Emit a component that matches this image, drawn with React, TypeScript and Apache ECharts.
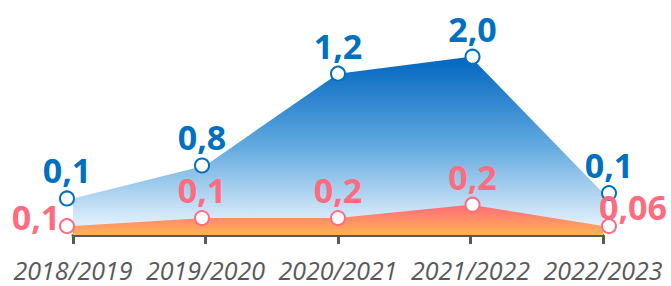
import React, { useEffect, useRef } from "react";
import * as echarts from "echarts";

const categories = ["2018/2019", "2019/2020", "2020/2021", "2021/2022", "2022/2023"];
const blueValues = [0.41, 0.78, 1.81, 2.0, 0.47];
const blueLabels = ["0,1", "0,8", "1,2", "2,0", "0,1"];
const pinkValues = [0.1, 0.19, 0.19, 0.34, 0.1];
const pinkLabels = ["0,1", "0,1", "0,2", "0,2", "0,06"];
const symbolShifts = [-6, -3.5, 0, 2, 6];

const BLUE = "#0070c0";
const PINK = "#ff6b7f";
const FONT = "'Open Sans', 'Noto Sans', sans-serif";

export default function App() {
  const ref = useRef<HTMLDivElement>(null);
  useEffect(() => {
    if (!ref.current) return;
    const chart = echarts.init(ref.current, null, { renderer: "svg" });
    const labelBase = {
      show: true,
      fontFamily: FONT,
      fontWeight: "bold",
      fontSize: 34,
    };
    chart.setOption({
      animation: false,
      grid: { left: 73, right: 68, top: 56.7, bottom: 51 },
      xAxis: {
        type: "category",
        data: categories,
        boundaryGap: false,
        axisLine: { lineStyle: { color: "#595959", width: 3 } },
        axisTick: { show: true, length: 9, lineStyle: { color: "#595959", width: 3 } },
        axisLabel: {
          interval: 0,
          hideOverlap: false,
          margin: 24,
          lineHeight: 22,
          color: "#595959",
          fontSize: 25,
          fontStyle: "italic",
          fontFamily: FONT,
        },
        splitLine: { show: false },
      },
      yAxis: { type: "value", min: 0, max: 2, show: false },
      series: [
        {
          type: "line",
          data: blueValues.map((v, i) => ({
            value: v,
            symbolOffset: [symbolShifts[i], 0],
            label: { ...labelBase, color: BLUE, position: "top", distance: 3, formatter: blueLabels[i] },
          })),
          symbol: "circle",
          symbolSize: 14,
          itemStyle: { color: "#ffffff", borderColor: BLUE, borderWidth: 2 },
          lineStyle: { width: 0 },
          areaStyle: {
            opacity: 1,
            color: new echarts.graphic.LinearGradient(0, 0, 0, 1, [
              { offset: 0, color: "#0066c0" },
              { offset: 0.5, color: "#62a9df" },
              { offset: 1, color: "#f2f9ff" },
            ]),
          },
          z: 2,
        },
        {
          type: "line",
          data: pinkValues.map((v, i) => {
            let label: any = { ...labelBase, color: PINK, position: "top", distance: 3, formatter: pinkLabels[i] };
            if (i === 0) label = { ...label, position: "inside", offset: [-31, -9] };
            if (i === pinkValues.length - 1) label = { ...label, position: "inside", offset: [24, -19] };
            return { value: v, symbolOffset: [symbolShifts[i], 0], label };
          }),
          symbol: "circle",
          symbolSize: 14,
          itemStyle: { color: "#ffffff", borderColor: PINK, borderWidth: 2 },
          lineStyle: { width: 0 },
          areaStyle: {
            opacity: 1,
            color: new echarts.graphic.LinearGradient(0, 0, 0, 1, [
              { offset: 0, color: "#ff6b7a" },
              { offset: 1, color: "#ffb354" },
            ]),
          },
          z: 3,
        },
      ],
    });
    return () => chart.dispose();
  }, []);
  return <div ref={ref} style={{ width: 671, height: 286, position: "absolute", left: 0, top: 0 }} />;
}
